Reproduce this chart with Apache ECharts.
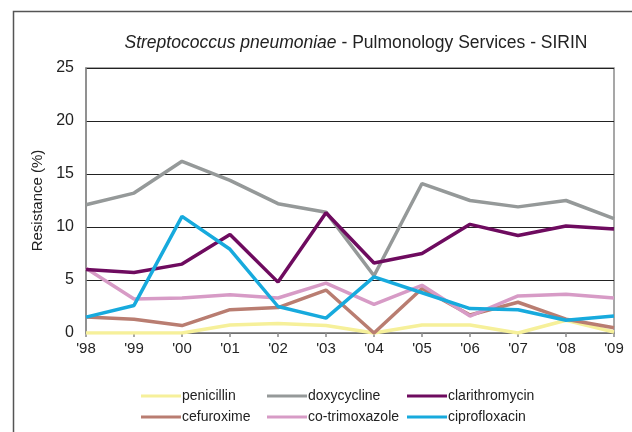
<!DOCTYPE html>
<html>
<head>
<meta charset="utf-8">
<script src="https://cdn.jsdelivr.net/npm/echarts@6/dist/echarts.min.js"></script>
<style>
  html, body { margin: 0; padding: 0; background: #fff; }
  #chart { width: 632px; height: 432px; }
</style>
</head>
<body>
<div id="chart"></div>
<script>
// Years of surveillance
var years = ["'98", "'99", "'00", "'01", "'02", "'03", "'04", "'05", "'06", "'07", "'08", "'09"];

// Resistance (%) per antibiotic
var penicillin     = [0.0, 0.0, 0.0, 0.75, 0.9, 0.7, 0.0, 0.75, 0.75, 0.0, 1.2, 0.1];
var doxycycline    = [12.1, 13.2, 16.2, 14.4, 12.2, 11.4, 5.4, 14.1, 12.5, 11.9, 12.5, 10.8];
var clarithromycin = [6.0, 5.7, 6.5, 9.3, 4.8, 11.35, 6.6, 7.5, 10.25, 9.2, 10.1, 9.8];
var cefuroxime     = [1.5, 1.3, 0.7, 2.2, 2.4, 4.05, 0.0, 4.2, 1.7, 2.9, 1.3, 0.5];
var coTrimoxazole  = [6.1, 3.2, 3.3, 3.6, 3.3, 4.7, 2.7, 4.5, 1.6, 3.5, 3.65, 3.3];
var ciprofloxacin  = [1.5, 2.6, 11.0, 7.9, 2.5, 1.4, 5.3, 3.8, 2.3, 2.2, 1.2, 1.6];

var yTicks = { min: 0, max: 25, interval: 5 };

var FONT = "'Liberation Sans', Arial, sans-serif";

var seriesDefs = [
  { name: 'penicillin',     data: penicillin,     color: '#f6f09a' },
  { name: 'cefuroxime',     data: cefuroxime,     color: '#b97d71' },
  { name: 'co-trimoxazole', data: coTrimoxazole,  color: '#d79bc6' },
  { name: 'doxycycline',    data: doxycycline,    color: '#959999' },
  { name: 'clarithromycin', data: clarithromycin, color: '#6e0b5f' },
  { name: 'ciprofloxacin',  data: ciprofloxacin,  color: '#17aadd' }
];

// legend slots: two rows of three columns
var legendSlots = {
  'penicillin':     { left: 141, top: 389 },
  'doxycycline':    { left: 267, top: 389 },
  'clarithromycin': { left: 407, top: 389 },
  'cefuroxime':     { left: 141, top: 410 },
  'co-trimoxazole': { left: 267, top: 410 },
  'ciprofloxacin':  { left: 407, top: 410 }
};

var legends = seriesDefs.map(function (s) {
  return {
    data: [s.name],
    left: legendSlots[s.name].left,
    top: legendSlots[s.name].top,
    icon: 'rect',
    itemWidth: 40,
    itemHeight: 3,
    padding: 0,
    textStyle: { fontFamily: FONT, fontSize: 14, color: '#222', padding: [0, 0, 0, -4] }
  };
});

var chart = echarts.init(document.getElementById('chart'), null, { renderer: 'canvas' });

chart.setOption({
  animation: false,
  backgroundColor: '#fff',
  title: {
    text: '{i|Streptococcus pneumoniae}{n| - Pulmonology Services - SIRIN}',
    left: 351,
    textAlign: 'center',
    top: 29,
    textStyle: {
      fontWeight: 'normal',
      rich: {
        i: { fontFamily: FONT, fontSize: 17.5, fontStyle: 'italic', fontWeight: 'normal', color: '#222' },
        n: { fontFamily: FONT, fontSize: 17.5, fontWeight: 'normal', color: '#222' }
      }
    }
  },
  graphic: [
    {
      type: 'rect',
      shape: { x: 13.5, y: 11.5, width: 800, height: 600 },
      style: { fill: 'none', stroke: '#555', lineWidth: 1.5 },
      silent: true
    }
  ],
  legend: legends,
  grid: {
    left: 86, right: 18, top: 68, bottom: 99,
    show: true,
    borderColor: '#8a8a8a',
    borderWidth: 1.5
  },
  xAxis: {
    type: 'category',
    data: years,
    boundaryGap: false,
    axisLine: { lineStyle: { color: '#8a8a8a', width: 1.5 } },
    axisTick: { show: true, length: 4, lineStyle: { color: '#8a8a8a', width: 1.5 } },
    axisLabel: { fontFamily: FONT, fontSize: 15, color: '#222', margin: 8 }
  },
  yAxis: {
    type: 'value',
    min: yTicks.min,
    max: yTicks.max,
    interval: yTicks.interval,
    name: 'Resistance (%)',
    nameLocation: 'middle',
    nameGap: 32,
    nameTextStyle: { fontFamily: FONT, fontSize: 15, color: '#222' },
    axisLine: { show: true, lineStyle: { color: '#8a8a8a', width: 1.5 } },
    axisTick: { show: false },
    splitLine: { lineStyle: { color: '#222', width: 1 } },
    axisLabel: { fontFamily: FONT, fontSize: 16, color: '#222', margin: 12 }
  },
  series: seriesDefs.map(function (s) {
    return {
      name: s.name,
      type: 'line',
      data: s.data,
      showSymbol: false,
      symbol: 'none',
      color: s.color,
      lineStyle: { color: s.color, width: 3.5 },
      itemStyle: { color: s.color }
    };
  })
});
</script>
</body>
</html>
